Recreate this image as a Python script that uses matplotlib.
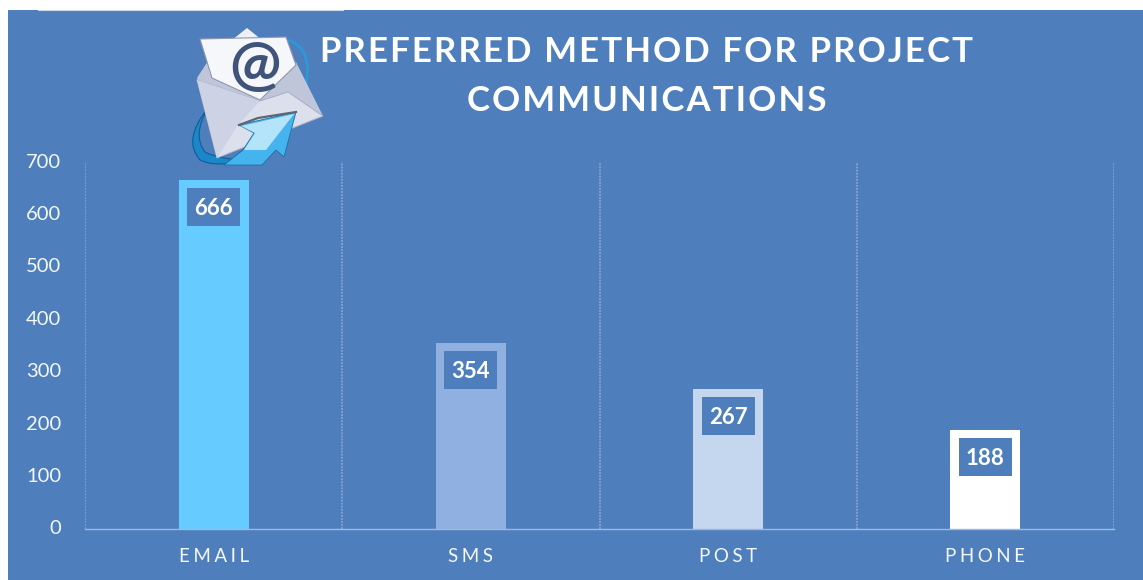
import matplotlib
matplotlib.use("Agg")
import matplotlib.pyplot as plt
from matplotlib.patches import Polygon, Rectangle, PathPatch
from matplotlib.path import Path
from matplotlib.ticker import MultipleLocator
from matplotlib.transforms import ScaledTranslation, IdentityTransform

categories = ["EMAIL", "SMS", "POST", "PHONE"]
values = [666, 354, 267, 188]
bar_colors = ["#66CCFF", "#8FB0E0", "#C5D6EF", "#FFFFFF"]
title_lines = ["PREFERRED METHOD FOR PROJECT", "COMMUNICATIONS"]
y_ticks = [0, 100, 200, 300, 400, 500, 600, 700]

BG = "#4E7FBC"
W, H = 1143, 580
plt.rcParams["font.family"] = ["Lato", "DejaVu Sans"]

def spaced(s, sep):
    return sep.join(s)

fig = plt.figure(figsize=(W / 100, H / 100), dpi=100, facecolor="white")

bg = fig.add_axes([0, 0, 1, 1], zorder=0)
bg.set_xlim(0, W); bg.set_ylim(H, 0); bg.axis("off")
bg.add_patch(Rectangle((7.5, 10), W, H, fc=BG, ec="none"))
bg.plot([38, 343], [9.7, 9.7], color="#C9D6E8", lw=0.8)

ax = fig.add_axes([85 / W, 1 - 529 / H, (1114 - 85) / W, (529 - 162) / H], zorder=1)
ax.patch.set_alpha(0)
x = list(range(len(categories)))
ax.bar(x, values, width=0.272, color=bar_colors, zorder=2)
ax.set_xlim(-0.5, 3.5)
ax.set_ylim(0, 700)
ax.set_yticks(y_ticks)
ax.set_xticks(x)
ax.set_xticklabels([spaced(c, "\u2009\u200a") for c in categories], fontsize=13.5, color="#F2F5FA")
ax.tick_params(axis="both", length=0, labelcolor="#F4F7FB")
ax.tick_params(axis="y", labelsize=14.5, pad=17)
ax.tick_params(axis="x", pad=14)
for s in ["top", "right", "left"]:
    ax.spines[s].set_visible(False)
ax.spines["bottom"].set_color("#9DB9DF")
ax.spines["bottom"].set_linewidth(1)
ax.xaxis.set_minor_locator(MultipleLocator(1, offset=0.5))
ax.tick_params(axis="x", which="minor", length=0)
ax.grid(True, axis="x", which="minor", color="#8FAAD3", lw=1.1, ls=(0, (1.2, 0.8)), zorder=1)

nudge = ScaledTranslation(0, 1.5 / 100, fig.dpi_scale_trans)
for lab in ax.get_yticklabels():
    lab.set_transform(lab.get_transform() + nudge)

# value label boxes: fixed size in pixels, anchored to each bar's top
for xi, v in zip(x, values):
    tr = fig.dpi_scale_trans + ScaledTranslation(*ax.transData.transform((xi, v)), IdentityTransform())
    ax.add_patch(Rectangle((-0.265, -0.46), 0.53, 0.38, transform=tr, fc=BG, ec="none", zorder=3))
    ax.annotate(str(v), (xi, v), xytext=(0, -28.5 * 0.72), textcoords="offset points",
                ha="center", va="center", fontsize=16, fontweight="bold", color="white", zorder=4)

for ln, yp in zip(title_lines, [52, 101]):
    bg.text(647, yp, spaced(ln, "\u200a"), ha="center", va="center", fontsize=25,
            fontweight="bold", color="white", zorder=5)

# e-mail icon
ic = fig.add_axes([0, 0, 1, 1], zorder=3)
ic.set_xlim(0, W); ic.set_ylim(H, 0); ic.axis("off")
ring = Path([(208, 108), (182, 140), (200, 160), (215, 168), (250, 160),
             (220, 160), (205, 152), (192, 135), (208, 108)],
            [Path.MOVETO, Path.CURVE3, Path.CURVE3, Path.CURVE3, Path.CURVE3,
             Path.CURVE3, Path.CURVE3, Path.CURVE3, Path.CURVE3])
ic.add_patch(PathPatch(ring, fc="#1B86C9", ec="#0F5E93", lw=0.8))
ring2 = Path([(288, 40), (318, 50), (302, 100)], [Path.MOVETO, Path.CURVE3, Path.CURVE3])
ic.add_patch(PathPatch(ring2, fc="none", ec="#2A9BD8", lw=1.8))
ic.add_patch(Polygon([(232, 40), (247, 28), (262, 40)], fc="#EEF0F6", ec="none"))
ic.add_patch(Polygon([(197, 78), (210, 58), (296, 62), (323, 116), (217, 158)], fc="#BFC6DA", ec="none"))
ic.add_patch(Polygon([(200, 39), (286, 37), (296, 65), (260, 100), (212, 78)], fc="#F6F7FB", ec="#8E97AE", lw=0.8))
ic.text(255, 67, "@", ha="center", va="center", fontsize=44, fontweight="bold", color="#3F5478")
ic.add_patch(Polygon([(197, 80), (260, 101), (288, 92), (323, 116), (217, 158)], fc="#DCE0EC", ec="#A8AFC2", lw=0.7))
ic.add_patch(Polygon([(197, 80), (260, 101), (238, 125), (217, 158)], fc="#CDD3E4", ec="none"))
ic.add_patch(Polygon([(296, 112), (284, 157), (276, 150), (262, 165), (224, 165), (243, 150),
                      (254, 133), (239, 125)], fc="#45B4EE", ec="#1F6E9E", lw=0.6))
ic.add_patch(Polygon([(294, 114), (266, 150), (244, 150), (255, 133), (241, 126)], fc="#B4E4FA", ec="none"))
ic.plot([239, 258, 296], [125, 118, 112], color="#5C6675", lw=1.6)

fig.savefig("out.png", dpi=100, facecolor="white")
